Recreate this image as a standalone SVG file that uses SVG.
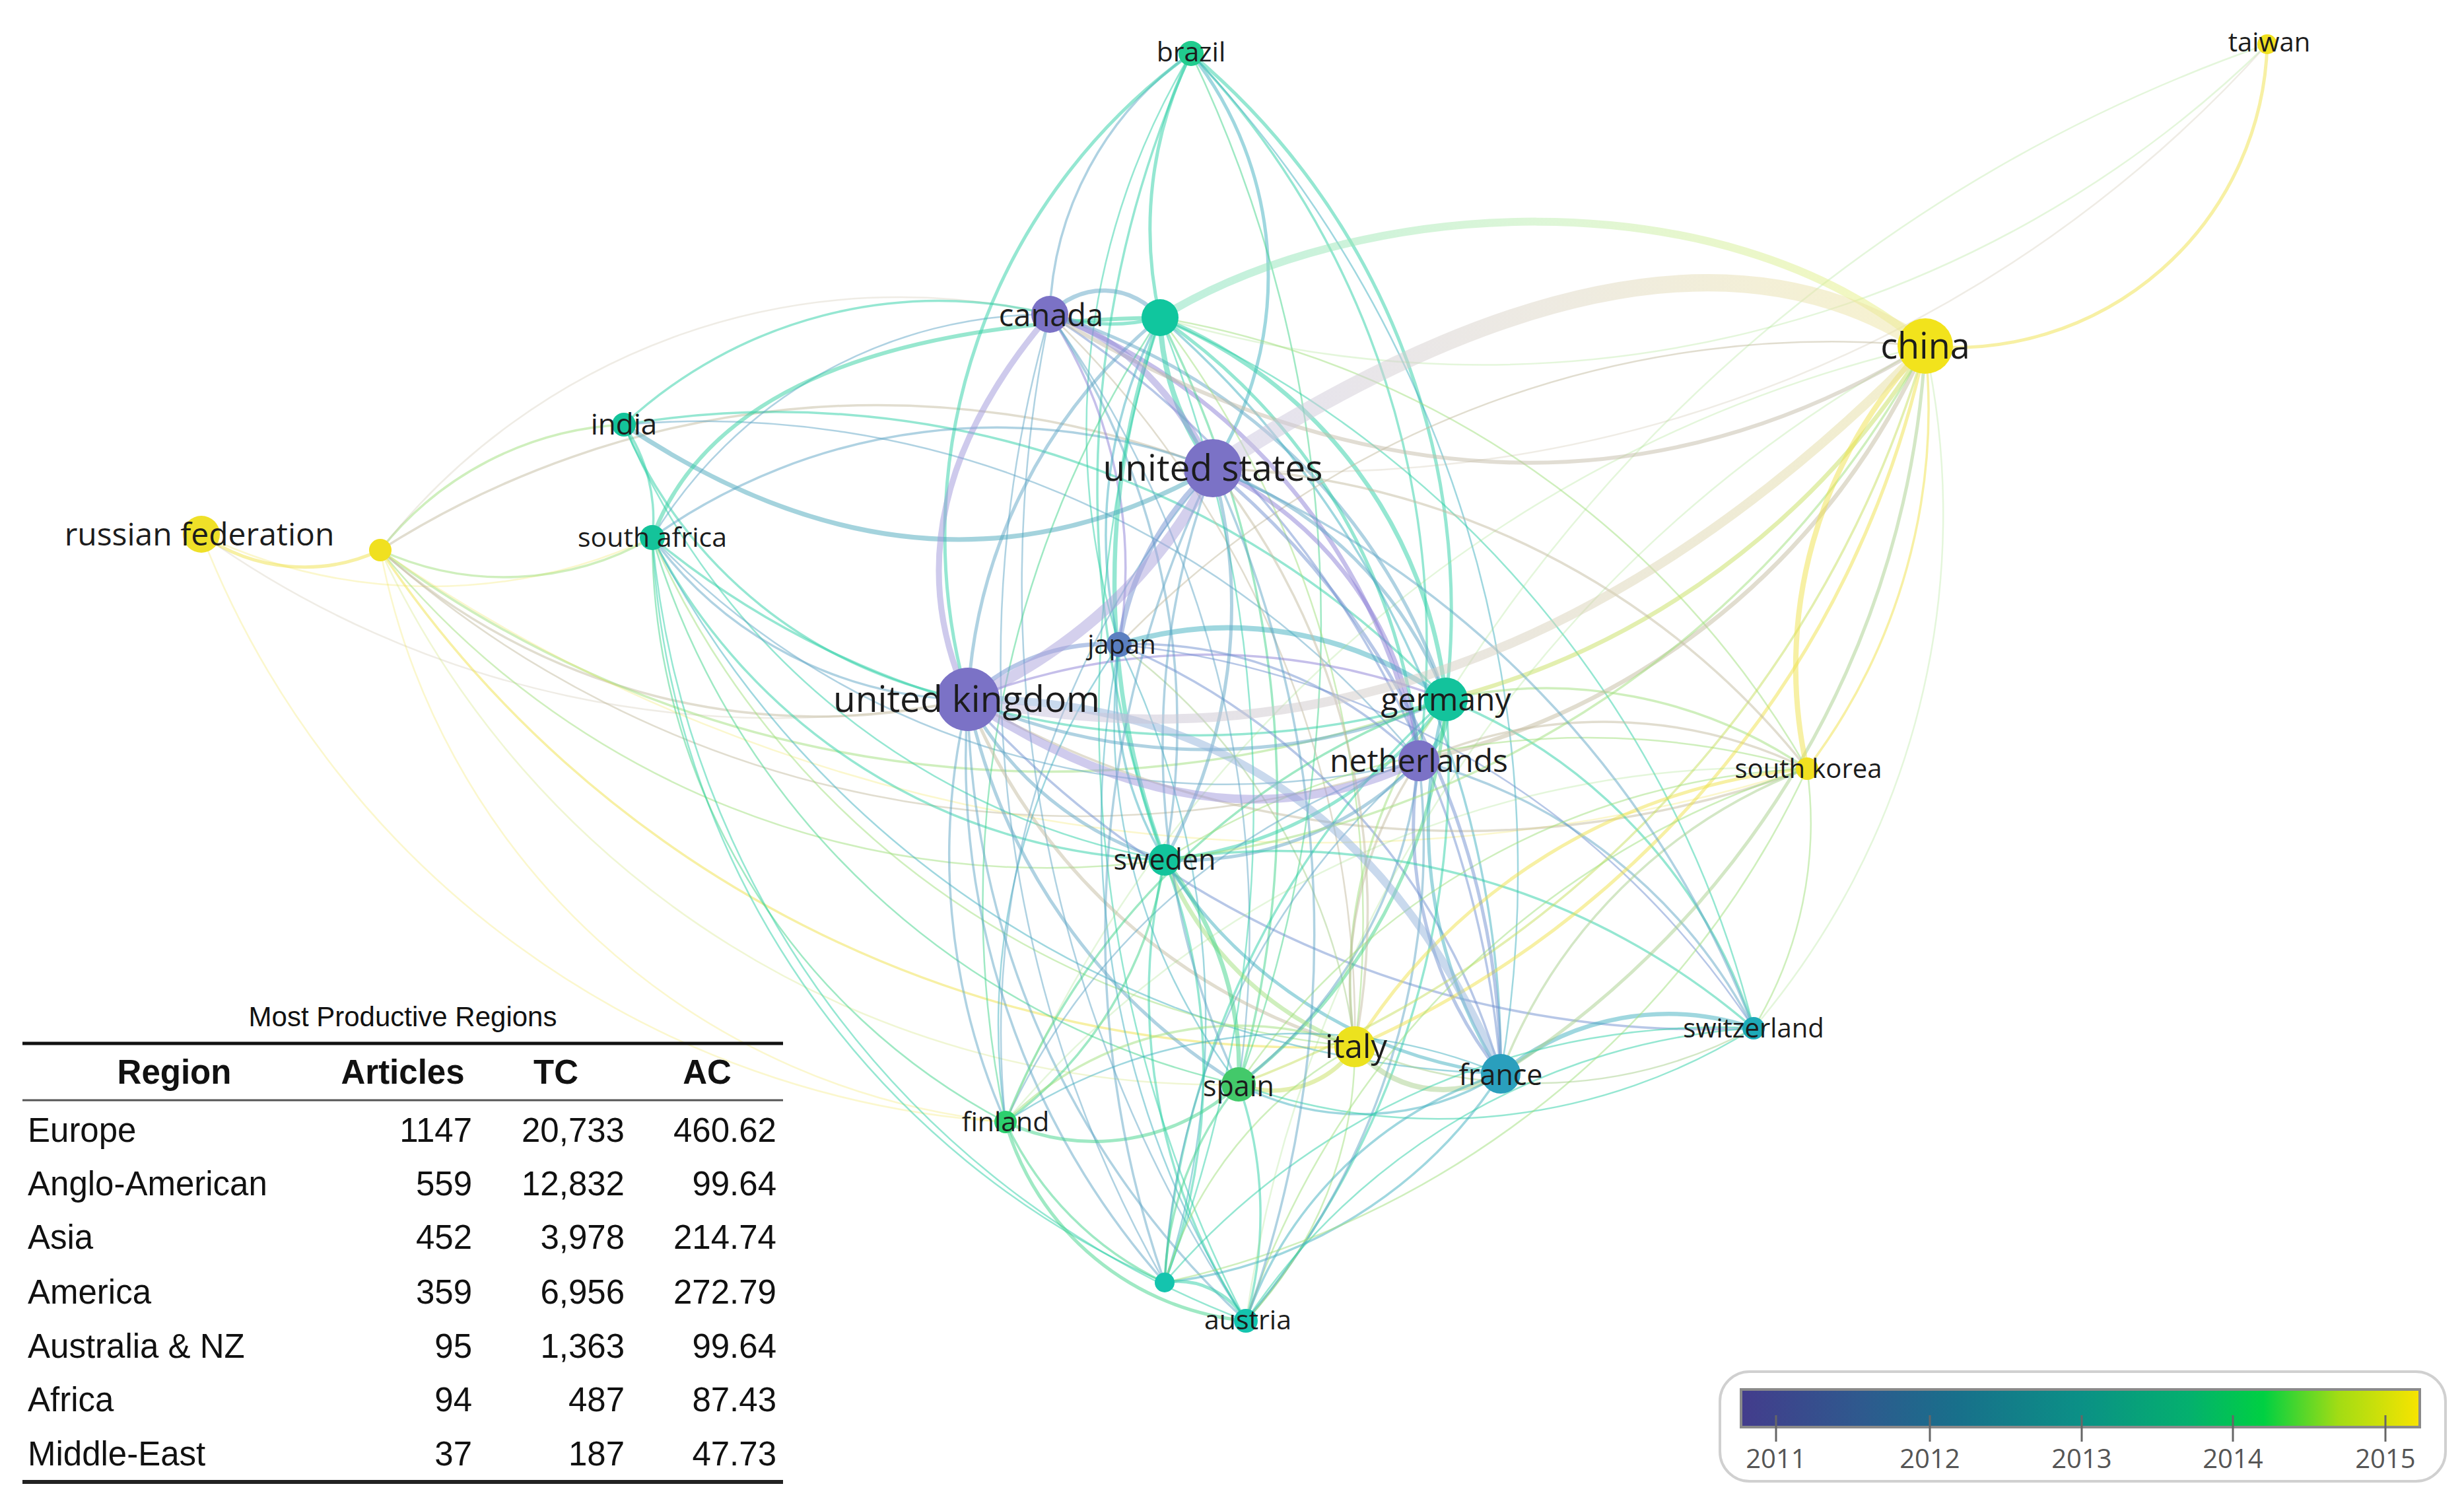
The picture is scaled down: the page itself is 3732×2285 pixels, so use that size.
<svg xmlns="http://www.w3.org/2000/svg" width="3732" height="2285" viewBox="0 0 3732 2285">
<style>
.e{fill:none;stroke-opacity:.5;stroke-linecap:round}
.f{stroke-opacity:.28}
.w2{stroke-width:2.5}.w3{stroke-width:3.5}.w4{stroke-width:5}.w5{stroke-width:6.5}.w6{stroke-width:8}
.pp{stroke:#8b80d6}.pt{stroke:#5fa6c6}.pb{stroke:#6f8fd0}.tt{stroke:#2ccfa6}.tg{stroke:#40d48a}
.ty{stroke:#9fe07c}.py{stroke:#c4bca0}.yy{stroke:#f0e24a}.bt{stroke:#3fb0c0}.by{stroke:#a8cf8c}.yg{stroke:#c8e060}
.lbl{font-family:'Open Sans','Noto Sans',sans-serif;fill:#1c1c1c;text-anchor:middle}
.tb{font-family:'Liberation Sans',Arial,sans-serif;font-size:51px;fill:#111}
.num{text-anchor:end}
.hd{font-weight:bold;text-anchor:middle}
.yr{font-family:'Open Sans','Noto Sans',sans-serif;font-size:40px;fill:#555;text-anchor:middle}
</style>
<defs>
<linearGradient id="gUSCN" gradientUnits="userSpaceOnUse" x1="1837" y1="709" x2="2916" y2="524">
<stop offset="0" stop-color="#c9c4e2"/><stop offset=".5" stop-color="#ddd6c4"/><stop offset="1" stop-color="#efe6a0"/></linearGradient>
<linearGradient id="gUKCN" gradientUnits="userSpaceOnUse" x1="1466" y1="1059" x2="2916" y2="524">
<stop offset="0" stop-color="#c4bfe0"/><stop offset=".5" stop-color="#d6cfbe"/><stop offset="1" stop-color="#e8e09c"/></linearGradient>
<linearGradient id="gG1CN" gradientUnits="userSpaceOnUse" x1="1757" y1="481" x2="2916" y2="524">
<stop offset="0" stop-color="#7ee0bc"/><stop offset=".5" stop-color="#bdeeb0"/><stop offset="1" stop-color="#eef07c"/></linearGradient>
<linearGradient id="leg" x1="0" y1="0" x2="1" y2="0">
<stop offset="0" stop-color="#433c8c"/><stop offset=".18" stop-color="#2e5a8e"/><stop offset=".32" stop-color="#18708b"/>
<stop offset=".5" stop-color="#0b9086"/><stop offset=".66" stop-color="#04b06e"/><stop offset=".77" stop-color="#00d042"/>
<stop offset=".88" stop-color="#a2dc14"/><stop offset="1" stop-color="#f8e400"/></linearGradient>
</defs>
<rect width="3732" height="2285" fill="#fff"/>
<g id="connectors">
<path class="e yy w4" d="M305 809 A270 270 0 0 0 576 833"/>
<path class="e yy w2 f" d="M305 809 A800 800 0 0 0 988 814"/>
<path class="e py w2 f" d="M305 809 A1500 1500 0 0 0 1466 1059"/>
<path class="e yy w2 f" d="M305 809 A1400 1400 0 0 0 1523 1699"/>
<path class="e ty w3" d="M576 833 A500 500 0 0 1 945 643"/>
<path class="e ty w3" d="M576 833 A450 450 0 0 0 988 814"/>
<path class="e py w2 f" d="M576 833 A1000 1000 0 0 1 1590 476"/>
<path class="e py w3" d="M576 833 A1400 1400 0 0 1 1837 709"/>
<path class="e py w3" d="M576 833 A1000 1000 0 0 0 1466 1059"/>
<path class="e ty w3" d="M576 833 A1700 1700 0 0 0 2190 1059"/>
<path class="e py w2" d="M576 833 A1600 1600 0 0 0 2149 1152"/>
<path class="e ty w2" d="M576 833 A1300 1300 0 0 0 1764 1302"/>
<path class="e yg w2 f" d="M576 833 A1400 1400 0 0 0 1876 1642"/>
<path class="e yy w2 f" d="M576 833 A1072 1072 0 0 0 1523 1699"/>
<path class="e yy w3" d="M576 833 A1700 1700 0 0 0 2052 1585"/>
<path class="e yy w2 f" d="M576 833 A2500 2500 0 0 0 2737 1164"/>
<path class="e tt w3" d="M945 643 A250 250 0 0 1 988 814"/>
<path class="e tt w3" d="M945 643 A700 700 0 0 1 1590 476"/>
<path class="e tt w3" d="M945 643 A1400 1400 0 0 1 2190 1059"/>
<path class="e tt w3" d="M945 643 A700 700 0 0 0 1466 1059"/>
<path class="e pt w2" d="M945 643 A1400 1400 0 0 1 2149 1152"/>
<path class="e tt w2" d="M945 643 A1100 1100 0 0 0 1764 1302"/>
<path class="e pt w3" d="M988 814 A900 900 0 0 1 1837 709"/>
<path class="e pt w3" d="M988 814 A600 600 0 0 0 1466 1059"/>
<path class="e tt w3" d="M988 814 A1300 1300 0 0 0 2190 1059"/>
<path class="e pt w2" d="M988 814 A1200 1200 0 0 0 2149 1152"/>
<path class="e tt w3" d="M988 814 A900 900 0 0 0 1764 1302"/>
<path class="e tg w2" d="M988 814 A1200 1200 0 0 0 1876 1642"/>
<path class="e bt w2" d="M988 814 A1500 1500 0 0 0 2273 1626"/>
<path class="e tt w2" d="M988 814 A1400 1400 0 0 0 1887 2000"/>
<path class="e tt w2" d="M988 814 A1300 1300 0 0 0 1764 1942"/>
<path class="e tg w2" d="M988 814 A1000 1000 0 0 0 1523 1699"/>
<path class="e pt w2" d="M988 814 A700 700 0 0 1 1590 476"/>
<path class="e ty w2" d="M988 814 A1300 1300 0 0 0 2052 1585"/>
<path class="e pt w3" d="M1804 81 A500 500 0 0 0 1590 476"/>
<path class="e tt w4" d="M1804 81 A600 600 0 0 0 1757 481"/>
<path class="e tt w4" d="M1804 81 A900 900 0 0 0 1466 1059"/>
<path class="e bt w4" d="M1804 81 A545 545 0 0 1 1837 709"/>
<path class="e tt w4" d="M1804 81 A1100 1100 0 0 1 2190 1059"/>
<path class="e tt w3" d="M1804 81 A1300 1300 0 0 1 2149 1152"/>
<path class="e tt w3" d="M1804 81 A1600 1600 0 0 0 1764 1302"/>
<path class="e tg w2" d="M1804 81 A2000 2000 0 0 1 1876 1642"/>
<path class="e tt w2" d="M1804 81 A1100 1100 0 0 0 1695 976"/>
<path class="e bt w2" d="M1804 81 A1800 1800 0 0 1 2273 1626"/>
<path class="e pt w5" d="M1590 476 A110 110 0 0 1 1757 481"/>
<path class="e tt w4" d="M1590 476 A300 300 0 0 0 1757 481"/>
<path class="e pp w3" d="M1590 476 A700 700 0 0 1 1695 976"/>
<path class="e pt w4" d="M1590 476 A900 900 0 0 1 2190 1059"/>
<path class="e pp w5" d="M1590 476 A900 900 0 0 1 2149 1152"/>
<path class="e pt w3" d="M1590 476 A1100 1100 0 0 1 1764 1302"/>
<path class="e pb w3" d="M1590 476 A1500 1500 0 0 1 2273 1626"/>
<path class="e py w2" d="M1590 476 A1500 1500 0 0 1 2052 1585"/>
<path class="e pt w2" d="M1590 476 A2000 2000 0 0 0 1887 2000"/>
<path class="e pt w2" d="M1590 476 A1900 1900 0 0 0 1764 1942"/>
<path class="e pt w2" d="M1590 476 A1600 1600 0 0 1 1876 1642"/>
<path class="e tt w6" d="M1757 481 A400 400 0 0 0 1837 709"/>
<path class="e pt w4" d="M1757 481 A800 800 0 0 0 1466 1059"/>
<path class="e tt w5" d="M1757 481 A700 700 0 0 1 2190 1059"/>
<path class="e tt w4" d="M1757 481 A900 900 0 0 1 2149 1152"/>
<path class="e tt w5" d="M1757 481 A1200 1200 0 0 0 1764 1302"/>
<path class="e bt w3" d="M1757 481 A700 700 0 0 0 1695 976"/>
<path class="e bt w3" d="M1757 481 A1500 1500 0 0 1 2273 1626"/>
<path class="e tg w3" d="M1757 481 A1600 1600 0 0 1 1876 1642"/>
<path class="e tt w2" d="M1757 481 A2000 2000 0 0 0 1887 2000"/>
<path class="e tg w2" d="M1757 481 A1600 1600 0 0 0 1523 1699"/>
<path class="e tt w2" d="M1757 481 A2000 2000 0 0 1 1764 1942"/>
<path class="e ty w2" d="M1757 481 A1500 1500 0 0 1 2052 1585"/>
<path class="e tt w2" d="M1757 481 A1600 1600 0 0 1 2656 1557"/>
<path class="e ty w2" d="M1757 481 A1400 1400 0 0 1 2737 1164"/>
<path class="e ty w2 f" d="M1757 481 A1700 1700 0 0 0 3434 67"/>
<path class="e pb w5" d="M1466 1059 A300 300 0 0 1 1695 976"/>
<path class="e pt w4" d="M1466 1059 A900 900 0 0 0 2190 1059"/>
<path class="e pp w3" d="M1466 1059 A1000 1000 0 0 1 2190 1059"/>
<path class="e pt w4" d="M1466 1059 A500 500 0 0 0 1764 1302"/>
<path class="e py w4" d="M1466 1059 A900 900 0 0 0 2052 1585"/>
<path class="e pt w4" d="M1466 1059 A900 900 0 0 0 1876 1642"/>
<path class="e pt w3" d="M1466 1059 A1000 1000 0 0 0 1523 1699"/>
<path class="e pt w3" d="M1466 1059 A1200 1200 0 0 0 1764 1942"/>
<path class="e pt w3" d="M1466 1059 A1300 1300 0 0 0 1887 2000"/>
<path class="e pb w3" d="M1466 1059 A1500 1500 0 0 0 2656 1557"/>
<path class="e py w3" d="M1466 1059 A1500 1500 0 0 0 2737 1164"/>
<path class="e bt w6" d="M1695 976 A555 555 0 0 1 2190 1059"/>
<path class="e pb w3" d="M1695 976 A600 600 0 0 1 2149 1152"/>
<path class="e bt w3" d="M1695 976 A500 500 0 0 0 1764 1302"/>
<path class="e pb w3" d="M1695 976 A1000 1000 0 0 1 2273 1626"/>
<path class="e bt w2" d="M1695 976 A900 900 0 0 0 1876 1642"/>
<path class="e by w2" d="M1695 976 A900 900 0 0 1 2052 1585"/>
<path class="e bt w2" d="M1695 976 A1400 1400 0 0 0 1887 2000"/>
<path class="e bt w2" d="M1695 976 A1300 1300 0 0 1 1764 1942"/>
<path class="e bt w2" d="M1695 976 A1000 1000 0 0 0 1523 1699"/>
<path class="e pb w2" d="M1695 976 A1300 1300 0 0 1 2656 1557"/>
<path class="e tt w6" d="M2190 1059 A90 90 0 0 1 2149 1152"/>
<path class="e tt w4" d="M2190 1059 A600 600 0 0 1 1764 1302"/>
<path class="e ty w3" d="M2190 1059 A700 700 0 0 0 2052 1585"/>
<path class="e tg w4" d="M2190 1059 A800 800 0 0 1 1876 1642"/>
<path class="e bt w4" d="M2190 1059 A700 700 0 0 0 2273 1626"/>
<path class="e tt w3" d="M2190 1059 A800 800 0 0 1 2656 1557"/>
<path class="e ty w3" d="M2190 1059 A700 700 0 0 1 2737 1164"/>
<path class="e yg w5" d="M2190 1059 A1200 1200 0 0 0 2916 524"/>
<path class="e tg w3" d="M2190 1059 A1100 1100 0 0 0 1523 1699"/>
<path class="e tt w3" d="M2190 1059 A1300 1300 0 0 1 1887 2000"/>
<path class="e tt w3" d="M2190 1059 A1300 1300 0 0 0 1764 1942"/>
<path class="e pt w4" d="M2149 1152 A500 500 0 0 1 1764 1302"/>
<path class="e py w3" d="M2149 1152 A600 600 0 0 0 2052 1585"/>
<path class="e pt w3" d="M2149 1152 A700 700 0 0 1 1876 1642"/>
<path class="e pb w4" d="M2149 1152 A600 600 0 0 0 2273 1626"/>
<path class="e pt w3" d="M2149 1152 A800 800 0 0 1 2656 1557"/>
<path class="e py w3" d="M2149 1152 A700 700 0 0 1 2737 1164"/>
<path class="e py w5" d="M2149 1152 A1100 1100 0 0 0 2916 524"/>
<path class="e pt w2" d="M2149 1152 A1000 1000 0 0 0 1523 1699"/>
<path class="e pt w3" d="M2149 1152 A1100 1100 0 0 1 1887 2000"/>
<path class="e pt w2" d="M2149 1152 A1100 1100 0 0 0 1764 1942"/>
<path class="e ty w5" d="M1764 1302 A500 500 0 0 0 2052 1585"/>
<path class="e tg w5" d="M1764 1302 A500 500 0 0 1 1876 1642"/>
<path class="e bt w4" d="M1764 1302 A700 700 0 0 0 2273 1626"/>
<path class="e tg w3" d="M1764 1302 A600 600 0 0 1 1523 1699"/>
<path class="e tt w3" d="M1764 1302 A900 900 0 0 0 1887 2000"/>
<path class="e tt w3" d="M1764 1302 A900 900 0 0 1 1764 1942"/>
<path class="e tt w3" d="M1764 1302 A1100 1100 0 0 1 2656 1557"/>
<path class="e ty w2" d="M1764 1302 A1200 1200 0 0 1 2737 1164"/>
<path class="e ty w3" d="M1764 1302 A1500 1500 0 0 0 2916 524"/>
<path class="e yg w5" d="M2052 1585 A150 150 0 0 1 1876 1642"/>
<path class="e by w6" d="M2052 1585 A170 170 0 0 0 2273 1626"/>
<path class="e yy w4" d="M2052 1585 A1500 1500 0 0 0 2916 524"/>
<path class="e yy w4" d="M2052 1585 A900 900 0 0 1 2737 1164"/>
<path class="e by w2" d="M2052 1585 A700 700 0 0 0 2656 1557"/>
<path class="e ty w2" d="M2052 1585 A600 600 0 0 1 1887 2000"/>
<path class="e ty w2" d="M2052 1585 A600 600 0 0 0 1764 1942"/>
<path class="e ty w3" d="M2052 1585 A500 500 0 0 0 1523 1699"/>
<path class="e bt w3" d="M1876 1642 A400 400 0 0 0 2273 1626"/>
<path class="e tg w4" d="M1876 1642 A320 320 0 0 1 1523 1699"/>
<path class="e tt w3" d="M1876 1642 A600 600 0 0 1 1887 2000"/>
<path class="e tg w3" d="M1876 1642 A500 500 0 0 0 1764 1942"/>
<path class="e yg w3" d="M1876 1642 A1700 1700 0 0 0 2916 524"/>
<path class="e ty w2" d="M1876 1642 A1100 1100 0 0 1 2737 1164"/>
<path class="e tt w2" d="M1876 1642 A900 900 0 0 0 2656 1557"/>
<path class="e bt w5" d="M2273 1626 A400 400 0 0 1 2656 1557"/>
<path class="e by w3" d="M2273 1626 A800 800 0 0 1 2737 1164"/>
<path class="e by w4" d="M2273 1626 A1400 1400 0 0 0 2916 524"/>
<path class="e bt w3" d="M2273 1626 A600 600 0 0 0 1887 2000"/>
<path class="e bt w3" d="M2273 1626 A700 700 0 0 1 1764 1942"/>
<path class="e bt w2" d="M2273 1626 A800 800 0 0 0 1523 1699"/>
<path class="e ty w2" d="M2656 1557 A600 600 0 0 0 2737 1164"/>
<path class="e ty w2 f" d="M2656 1557 A1200 1200 0 0 0 2916 524"/>
<path class="e tt w2" d="M2656 1557 A1100 1100 0 0 0 1764 1942"/>
<path class="e tt w2" d="M2656 1557 A1000 1000 0 0 0 1887 2000"/>
<path class="e yy w6" d="M2916 524 A700 700 0 0 0 2737 1164"/>
<path class="e yy w3" d="M2916 524 A900 900 0 0 1 2737 1164"/>
<path class="e ty w2 f" d="M2737 1164 A1500 1500 0 0 0 1523 1699"/>
<path class="e ty w2" d="M2737 1164 A1300 1300 0 0 0 1887 2000"/>
<path class="e ty w2" d="M2737 1164 A1400 1400 0 0 1 1764 1942"/>
<path class="e py w2" d="M2916 524 A1500 1500 0 0 0 1695 976"/>
<path class="e yy w4" d="M3434 67 A473 473 0 0 1 2916 524"/>
<path class="e py w2 f" d="M1837 709 A1951 1951 0 0 0 3434 67"/>
<path class="e ty w2 f" d="M3434 67 A2400 2400 0 0 0 2190 1059"/>
<path class="e ty w2 f" d="M2916 524 A2000 2000 0 0 0 1523 1699"/>
<path class="e ty w2 f" d="M2916 524 A2000 2000 0 0 0 1887 2000"/>
<path class="e tg w3" d="M1523 1699 A500 500 0 0 0 1764 1942"/>
<path class="e tg w4" d="M1523 1699 A420 420 0 0 0 1887 2000"/>
<path class="e tt w4" d="M1764 1942 A120 120 0 0 1 1887 2000"/>
<path class="e pt w2" d="M1837 709 A1300 1300 0 0 0 1523 1699"/>
<path class="e pt w3" d="M1837 709 A1600 1600 0 0 0 1764 1942"/>
<path class="e pt w3" d="M1837 709 A1700 1700 0 0 1 1887 2000"/>
<path class="e pt w4" d="M1837 709 A600 600 0 0 1 2190 1059"/>
<path class="e pp w5" d="M1837 709 A542 542 0 0 1 2149 1152"/>
<path class="e pb w6" d="M1837 709 A450 450 0 0 0 1695 976"/>
<path class="e pt w4" d="M1837 709 A780 780 0 0 1 1764 1302"/>
<path class="e py w3" d="M1837 709 A1080 1080 0 0 1 2052 1585"/>
<path class="e pt w3" d="M1837 709 A1200 1200 0 0 0 1876 1642"/>
<path class="e pb w4" d="M1837 709 A1200 1200 0 0 1 2273 1626"/>
<path class="e pt w3" d="M1837 709 A1500 1500 0 0 1 2656 1557"/>
<path class="e py w3" d="M1837 709 A1200 1200 0 0 1 2737 1164"/>
<path class="e" stroke="#4aa8bc" stroke-opacity=".6" stroke-width="7" d="M945 643 Q1409 954 1837 709"/>
<path class="e" stroke="#30cf9f" stroke-opacity=".6" stroke-width="6" d="M988 814 Q1108 492 1757 481"/>
<path class="e" stroke="#c4bca8" stroke-opacity=".7" stroke-width="6" d="M1590 476 Q2300 900 2916 524"/>
<path class="e" stroke="#9d95da" stroke-opacity=".55" stroke-width="9" d="M1466 1059 Q1336 773 1590 476"/>
<path class="e" stroke="#9890d8" stroke-opacity=".55" stroke-width="10" d="M1590 476 Q1740 520 1837 709"/>
<path class="e" stroke="#94b4dc" stroke-opacity=".6" stroke-width="12" d="M1466 1059 Q2030 1057 2273 1626"/>
<path class="e" stroke="#a098dc" stroke-opacity=".55" stroke-width="13" d="M1466 1059 Q1832 1304 2149 1152"/>
<path class="e" stroke="#a9a2dc" stroke-opacity=".65" stroke-width="17" d="M1466 1059 Q1720 940 1837 709"/>
<path class="e" stroke="url(#gUKCN)" stroke-opacity=".85" stroke-width="14" d="M1466 1059 C1900 1150 2400 1050 2916 524"/>
<path class="e" stroke="url(#gG1CN)" stroke-opacity=".85" stroke-width="12" d="M1757 481 C2050 300 2600 260 2916 524"/>
<path class="e" stroke="url(#gUSCN)" stroke-opacity=".85" stroke-width="26" d="M1837 709 Q2524 264 2916 524"/>
</g>
<g id="node-russian-federation"><circle cx="305" cy="809" r="28" fill="#efe028"/><text class="lbl" x="302" y="809" dy=".35em" font-size="48">russian federation</text></g>
<g id="node-unlabeled-yellow"><circle cx="576" cy="833" r="17" fill="#f0e020"/></g>
<g id="node-india"><circle cx="945" cy="643" r="18" fill="#14c39a"/><text class="lbl" x="945" y="643" dy=".35em" font-size="44">india</text></g>
<g id="node-south-africa"><circle cx="988" cy="814" r="19" fill="#14c39a"/><text class="lbl" x="988" y="814" dy=".35em" font-size="41">south africa</text></g>
<g id="node-brazil"><circle cx="1804" cy="81" r="19" fill="#21cc8e"/><text class="lbl" x="1804" y="79" dy=".35em" font-size="41">brazil</text></g>
<g id="node-taiwan"><circle cx="3434" cy="67" r="15" fill="#f0e020"/><text class="lbl" x="3437" y="64" dy=".35em" font-size="40">taiwan</text></g>
<g id="node-canada"><circle cx="1590" cy="476" r="28" fill="#7b72c6"/><text class="lbl" x="1592" y="478" dy=".35em" font-size="47">canada</text></g>
<g id="node-unlabeled-teal"><circle cx="1757" cy="481" r="28" fill="#10c69e"/></g>
<g id="node-united-states"><circle cx="1837" cy="709" r="44" fill="#7b72c6"/><text class="lbl" x="1837" y="709" dy=".35em" font-size="55">united states</text></g>
<g id="node-japan"><circle cx="1695" cy="976" r="19" fill="#5b7fc0"/><text class="lbl" x="1699" y="976" dy=".35em" font-size="40">japan</text></g>
<g id="node-united-kingdom"><circle cx="1466" cy="1059" r="48" fill="#7b72c6"/><text class="lbl" x="1464" y="1059" dy=".35em" font-size="55">united kingdom</text></g>
<g id="node-germany"><circle cx="2190" cy="1059" r="33" fill="#13c39c"/><text class="lbl" x="2190" y="1059" dy=".35em" font-size="48">germany</text></g>
<g id="node-netherlands"><circle cx="2149" cy="1152" r="31" fill="#7b72c6"/><text class="lbl" x="2149" y="1152" dy=".35em" font-size="48">netherlands</text></g>
<g id="node-south-korea"><circle cx="2737" cy="1164" r="17" fill="#f0e020"/><text class="lbl" x="2739" y="1164" dy=".35em" font-size="40">south korea</text></g>
<g id="node-sweden"><circle cx="1764" cy="1302" r="24" fill="#12c49c"/><text class="lbl" x="1764" y="1302" dy=".35em" font-size="43">sweden</text></g>
<g id="node-italy"><circle cx="2052" cy="1585" r="31" fill="#ece21e"/><text class="lbl" x="2054" y="1585" dy=".35em" font-size="49">italy</text></g>
<g id="node-spain"><circle cx="1876" cy="1642" r="26" fill="#43c96a"/><text class="lbl" x="1876" y="1645" dy=".35em" font-size="43">spain</text></g>
<g id="node-france"><circle cx="2273" cy="1626" r="30" fill="#2a9fbd"/><text class="lbl" x="2273" y="1628" dy=".35em" font-size="43">france</text></g>
<g id="node-switzerland"><circle cx="2656" cy="1557" r="17" fill="#1eaab8"/><text class="lbl" x="2656" y="1557" dy=".35em" font-size="40">switzerland</text></g>
<g id="node-finland"><circle cx="1523" cy="1699" r="17" fill="#2ccf6e"/><text class="lbl" x="1523" y="1699" dy=".35em" font-size="41">finland</text></g>
<g id="node-unlabeled-bottom"><circle cx="1764" cy="1942" r="15" fill="#14c4ae"/></g>
<g id="node-austria"><circle cx="1887" cy="2000" r="18" fill="#14c4ae"/><text class="lbl" x="1890" y="1999" dy=".35em" font-size="41">austria</text></g>
<g id="node-china"><circle cx="2916" cy="524" r="42" fill="#f2e31c"/><text class="lbl" x="2916" y="524" dy=".35em" font-size="54">china</text></g>
<g id="table">
<text class="tb" x="610" y="1554" text-anchor="middle" style="font-size:42px">Most Productive Regions</text>
<line x1="34" y1="1580" x2="1186" y2="1580" stroke="#111" stroke-width="5"/>
<text class="tb hd" x="264" y="1641">Region</text>
<text class="tb hd" x="610" y="1641">Articles</text>
<text class="tb hd" x="842" y="1641">TC</text>
<text class="tb hd" x="1071" y="1641">AC</text>
<line x1="34" y1="1666" x2="1186" y2="1666" stroke="#555" stroke-width="3"/>
<text class="tb" x="42" y="1729">Europe</text><text class="tb num" x="715" y="1729">1147</text><text class="tb num" x="946" y="1729">20,733</text><text class="tb num" x="1176" y="1729">460.62</text>
<text class="tb" x="42" y="1810">Anglo-American</text><text class="tb num" x="715" y="1810">559</text><text class="tb num" x="946" y="1810">12,832</text><text class="tb num" x="1176" y="1810">99.64</text>
<text class="tb" x="42" y="1891">Asia</text><text class="tb num" x="715" y="1891">452</text><text class="tb num" x="946" y="1891">3,978</text><text class="tb num" x="1176" y="1891">214.74</text>
<text class="tb" x="42" y="1974">America</text><text class="tb num" x="715" y="1974">359</text><text class="tb num" x="946" y="1974">6,956</text><text class="tb num" x="1176" y="1974">272.79</text>
<text class="tb" x="42" y="2056">Australia &amp; NZ</text><text class="tb num" x="715" y="2056">95</text><text class="tb num" x="946" y="2056">1,363</text><text class="tb num" x="1176" y="2056">99.64</text>
<text class="tb" x="42" y="2137">Africa</text><text class="tb num" x="715" y="2137">94</text><text class="tb num" x="946" y="2137">487</text><text class="tb num" x="1176" y="2137">87.43</text>
<text class="tb" x="42" y="2219">Middle-East</text><text class="tb num" x="715" y="2219">37</text><text class="tb num" x="946" y="2219">187</text><text class="tb num" x="1176" y="2219">47.73</text>
<line x1="34" y1="2244" x2="1186" y2="2244" stroke="#222" stroke-width="6"/>
</g>
<g id="legend">
<rect x="2605" y="2077" width="1099" height="166" rx="45" fill="#fff" stroke="#d0d0d0" stroke-width="4"/>
<rect x="2637" y="2104" width="1028" height="57" fill="url(#leg)" stroke="#8a8a8a" stroke-width="4"/>
<g stroke="#666" stroke-width="3">
<line x1="2690" y1="2143" x2="2690" y2="2183"/><line x1="2923" y1="2143" x2="2923" y2="2183"/><line x1="3153" y1="2143" x2="3153" y2="2183"/><line x1="3382" y1="2143" x2="3382" y2="2183"/><line x1="3613" y1="2143" x2="3613" y2="2183"/>
</g>
<text class="yr" x="2690" y="2223">2011</text><text class="yr" x="2923" y="2223">2012</text><text class="yr" x="3153" y="2223">2013</text><text class="yr" x="3382" y="2223">2014</text><text class="yr" x="3613" y="2223">2015</text>
</g>
</svg>
